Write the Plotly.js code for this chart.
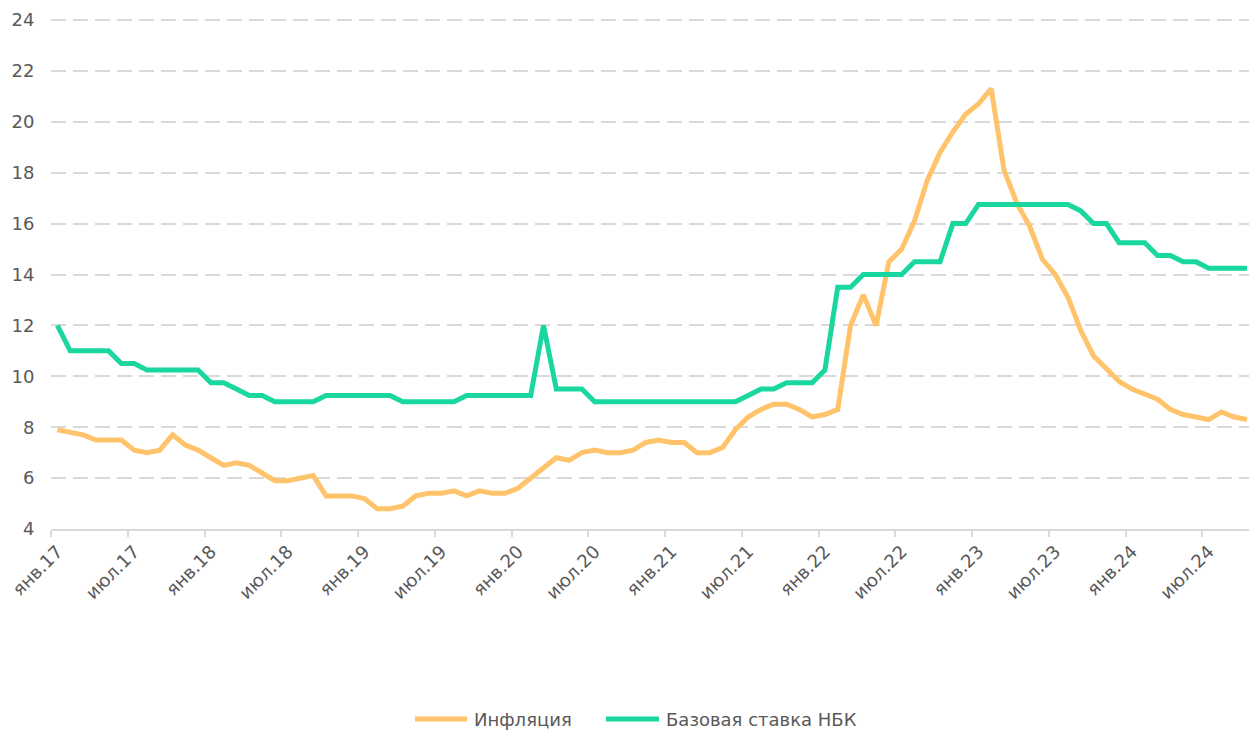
<!DOCTYPE html>
<html>
<head>
<meta charset="utf-8">
<script src="https://cdn.plot.ly/plotly-3.0.1.min.js"></script>
<style>html,body{margin:0;padding:0;background:#fff;}#chart{width:1249px;height:731px;}</style>
</head>
<body>
<div id="chart"></div>
<script>
// Monthly data, Jan 2017 .. Oct 2024
const startYear = 2017;
const monthNames = ["янв","фев","мар","апр","май","июн","июл","авг","сен","окт","ноя","дек"];

const inflation = [
  7.9, 7.8, 7.7, 7.5, 7.5, 7.5, 7.1, 7.0, 7.1, 7.7, 7.3, 7.1,   // 2017
  6.8, 6.5, 6.6, 6.5, 6.2, 5.9, 5.9, 6.0, 6.1, 5.3, 5.3, 5.3,   // 2018
  5.2, 4.8, 4.8, 4.9, 5.3, 5.4, 5.4, 5.5, 5.3, 5.5, 5.4, 5.4,   // 2019
  5.6, 6.0, 6.4, 6.8, 6.7, 7.0, 7.1, 7.0, 7.0, 7.1, 7.4, 7.5,   // 2020
  7.4, 7.4, 7.0, 7.0, 7.2, 7.9, 8.4, 8.7, 8.9, 8.9, 8.7, 8.4,   // 2021
  8.5, 8.7, 12.0, 13.2, 12.0, 14.5, 15.0, 16.1, 17.7, 18.8, 19.6, 20.3, // 2022
  20.7, 21.3, 18.1, 16.8, 15.9, 14.6, 14.0, 13.1, 11.8, 10.8, 10.3, 9.8, // 2023
  9.5, 9.3, 9.1, 8.7, 8.5, 8.4, 8.3, 8.6, 8.4, 8.3              // 2024
];

const baseRate = [
  12, 11, 11, 11, 11, 10.5, 10.5, 10.25, 10.25, 10.25, 10.25, 10.25, // 2017
  9.75, 9.75, 9.5, 9.25, 9.25, 9.0, 9.0, 9.0, 9.0, 9.25, 9.25, 9.25, // 2018
  9.25, 9.25, 9.25, 9.0, 9.0, 9.0, 9.0, 9.0, 9.25, 9.25, 9.25, 9.25, // 2019
  9.25, 9.25, 12, 9.5, 9.5, 9.5, 9.0, 9.0, 9.0, 9.0, 9.0, 9.0,       // 2020
  9.0, 9.0, 9.0, 9.0, 9.0, 9.0, 9.25, 9.5, 9.5, 9.75, 9.75, 9.75,    // 2021
  10.25, 13.5, 13.5, 14.0, 14.0, 14.0, 14.0, 14.5, 14.5, 14.5, 16.0, 16.0, // 2022
  16.75, 16.75, 16.75, 16.75, 16.75, 16.75, 16.75, 16.75, 16.5, 16.0, 16.0, 15.25, // 2023
  15.25, 15.25, 14.75, 14.75, 14.5, 14.5, 14.25, 14.25, 14.25, 14.25 // 2024
];

const tickLabels = ["янв.17","июл.17","янв.18","июл.18","янв.19","июл.19","янв.20","июл.20",
                    "янв.21","июл.21","янв.22","июл.22","янв.23","июл.23","янв.24","июл.24"];
const tickStep = 6;

const seriesNames = ["Инфляция", "Базовая ставка НБК"];
const colors = ["#FFC46B", "#19D79F"];

const x = inflation.map((_, i) => i);
const monthLabels = x.map(i => monthNames[i % 12] + "." + String((startYear + Math.floor(i / 12)) % 100));

const labelPos = tickLabels.map((_, k) => k * tickStep);
const boundaryPos = tickLabels.map((_, k) => k * tickStep - 0.5);

const font = "DejaVu Sans, Verdana, sans-serif";
const textColor = "#595959";
const gridColor = "#d9d9d9";
const xRange = [-0.5, 93.15];

const W = 1249, H = 731;
const M = {l: 51, r: 0, t: 19, b: 202};
const plotW = W - M.l - M.r, plotH = H - M.t - M.b;
// container pixel -> paper fraction helpers (for the hand-drawn legend)
const px = v => (v - M.l) / plotW;
const py = v => (H - M.b - v) / plotH;

const traces = [
  {x: x, y: inflation, name: seriesNames[0], type: "scatter", mode: "lines",
   text: monthLabels, line: {color: colors[0], width: 5}, hovertemplate: "%{text}: %{y}<extra></extra>"},
  {x: x, y: baseRate, name: seriesNames[1], type: "scatter", mode: "lines",
   text: monthLabels, line: {color: colors[1], width: 5}, hovertemplate: "%{text}: %{y}<extra></extra>"},
  // invisible helper so the label axis is drawn
  {x: x, y: baseRate, xaxis: "x2", yaxis: "y", type: "scatter", mode: "lines",
   line: {width: 0, color: "rgba(0,0,0,0)"}, showlegend: false, hoverinfo: "skip"}
];

const legendY = 719;
const legendItems = [
  {name: seriesNames[0], color: colors[0], x0: 415, x1: 467, tx: 472},
  {name: seriesNames[1], color: colors[1], x0: 606, x1: 659, tx: 664}
];

const shapes = legendItems.map(it => ({
  type: "line", xref: "paper", yref: "paper",
  x0: px(it.x0), x1: px(it.x1), y0: py(legendY), y1: py(legendY),
  line: {color: it.color, width: 5}
}));
shapes.forEach(s => { s.line.cap = "round"; });

const annotations = legendItems.map(it => ({
  xref: "paper", yref: "paper", x: px(it.tx), y: py(legendY),
  xanchor: "left", yanchor: "middle", showarrow: false, text: it.name,
  font: {family: font, size: 18, color: textColor}
}));

const layout = {
  width: W, height: H,
  margin: M,
  paper_bgcolor: "#fff", plot_bgcolor: "#fff",
  font: {family: font, size: 18, color: textColor},
  showlegend: false,
  shapes: shapes,
  annotations: annotations,
  xaxis: {
    range: xRange, showgrid: false, zeroline: false,
    showline: true, linecolor: gridColor, linewidth: 2,
    tickmode: "array", tickvals: boundaryPos, ticks: "outside", ticklen: 6, tickwidth: 2,
    tickcolor: gridColor, showticklabels: false
  },
  xaxis2: {
    range: xRange, overlaying: "x", side: "bottom", anchor: "y",
    showgrid: false, zeroline: false, showline: false,
    tickmode: "array", tickvals: labelPos, ticktext: tickLabels, tickangle: -45,
    ticks: "outside", ticklen: 4, tickcolor: "rgba(0,0,0,0)",
    tickfont: {family: font, size: 18, color: textColor}
  },
  yaxis: {
    range: [4, 24.04], tickmode: "array", tickvals: [4,6,8,10,12,14,16,18,20,22,24],
    showgrid: true, gridcolor: gridColor, gridwidth: 2,
    griddash: "15px,7px", zeroline: false, showline: false,
    ticks: "outside", ticklen: 12, tickcolor: "rgba(0,0,0,0)",
    tickfont: {family: font, size: 18, color: textColor}
  }
};

Plotly.newPlot("chart", traces, layout, {displayModeBar: false});
</script>
</body>
</html>
